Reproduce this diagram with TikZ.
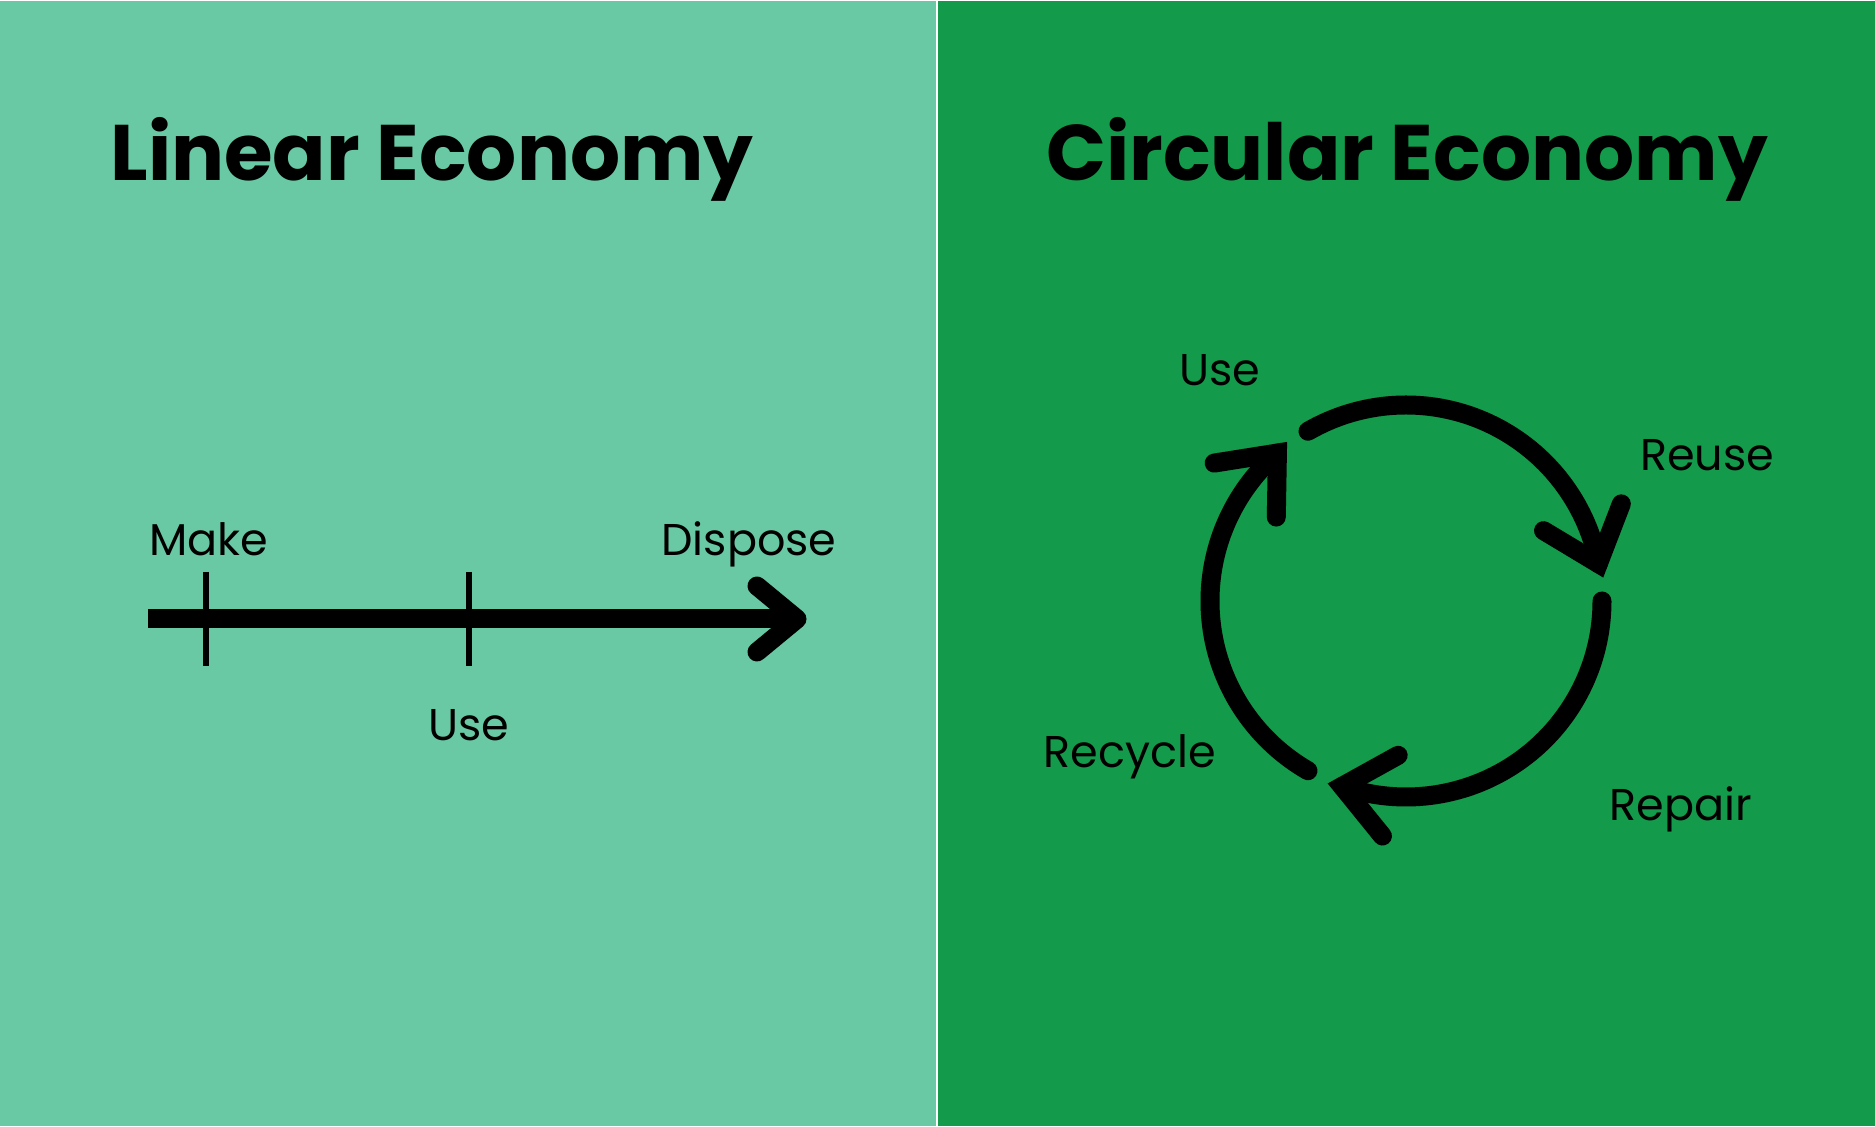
\documentclass[tikz,border=0pt]{standalone}
\usepackage{fontspec}
\setmainfont{Poppins}
\usetikzlibrary{calc}
\definecolor{lineargreen}{HTML}{68C9A4}
\definecolor{circulargreen}{HTML}{139A4A}

\begin{document}
\begin{tikzpicture}[x=0.4pt, y=0.4pt,
  title/.style={font=\fontsize{31.5}{36}\selectfont\bfseries, anchor=base},
  lbl/.style={font=\fontsize{17.8}{21}\selectfont, anchor=base},
  axis/.style={line width=7.6pt},
  tickmark/.style={line width=2.6pt},
  flow/.style={line width=7.6pt, line cap=round, line join=miter}]
% panels
\fill[lineargreen] (0,0) rectangle (937,1125);
\fill[circulargreen] (937,0) rectangle (1875,1125);
\draw[white, line width=0.8pt] (937,0) -- (937,1125);
\useasboundingbox (0,0) rectangle (1875,1125);

\node[title] (lintitle) at (432,945) {Linear Economy};
\node[title] (circtitle) at (1407,945) {Circular Economy};

% linear economy
\coordinate (start) at (148,507);
\coordinate (tip) at (797,507);
\coordinate (make) at (206,507);
\coordinate (use) at (469,507);
\draw[axis] (start) -- (tip);
\draw[axis, line cap=round, line join=round]
  ($(tip)+(-40,33)$) -- (tip) -- ($(tip)+(-40,-33)$);
\draw[tickmark] ($(make)+(0,47)$) -- ($(make)+(0,-47)$);
\draw[tickmark] ($(use)+(0,47)$) -- ($(use)+(0,-47)$);
\node[lbl] (makelbl) at (209,570) {Make};
\node[lbl] (uselbl) at (469,385) {Use};
\node[lbl] (disposelbl) at (749,570) {Dispose};

% circular economy
\coordinate (c) at (1406,525);
\foreach \a in {120,0,240} {
  \draw[flow] ($(c)+(\a:196)$) arc[start angle=\a, end angle=\a-109, radius=196];
  \draw[flow] ($(c)+(\a-109:196)+(\a+29:64)$) -- ($(c)+(\a-109:196)$)
    -- ($(c)+(\a-109:196)+(\a-51:64)$);
}
\node[lbl] (usecirc) at (1220,740) {Use};
\node[lbl] (reuse) at (1707,655) {Reuse};
\node[lbl] (repair) at (1681,305) {Repair};
\node[lbl] (recycle) at (1130,358) {Recycle};
\end{tikzpicture}
\end{document}
